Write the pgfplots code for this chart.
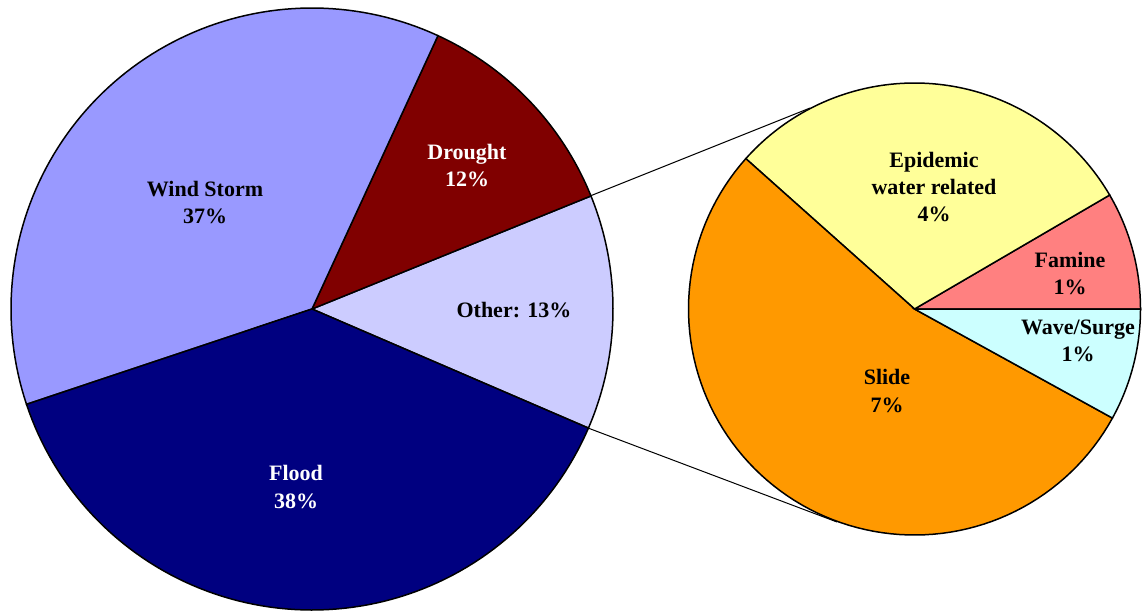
\documentclass[border=0pt]{standalone}
\usepackage{fontspec}
\setmainfont{Liberation Serif}
\usepackage{pgfplots}
\pgfplotsset{compat=1.18}

\definecolor{windc}{HTML}{9999FF}
\definecolor{droughtc}{HTML}{800000}
\definecolor{otherc}{HTML}{CCCCFF}
\definecolor{floodc}{HTML}{000080}
\definecolor{epic}{HTML}{FFFF99}
\definecolor{faminec}{HTML}{FF8080}
\definecolor{wavec}{HTML}{CCFFFF}
\definecolor{slidec}{HTML}{FF9900}

% shares (percent of all disasters)
\def\vOther{12.6}
\def\vDrought{12.0}
\def\vWind{37.0}
\def\vFlood{38.4}
% breakdown of "Other"
\def\vFamine{1.06}
\def\vEpi{3.78}
\def\vSlide{6.75}
\def\vWave{1.01}

% one wedge: cx, cy, r, from angle, to angle, colour
\newcommand{\pieslice}[6]{%
  \addplot[draw=black, line width=0.75pt, fill=#6, domain=#4:#5, samples=90, variable=\t]
    ({#1+#3*cos(\t)},{#2-#3*sin(\t)}) -- (axis cs:#1,#2) -- cycle;}

\tikzset{lbl/.style={font=\bfseries\fontsize{11}{13.5}\selectfont, align=center, inner sep=0pt}}

\begin{document}
\begin{tikzpicture}
  \pgfmathsetmacro\aA{-23.3}
  \pgfmathsetmacro\aB{\aA+3.6*\vOther}
  \pgfmathsetmacro\aC{\aB+3.6*\vDrought}
  \pgfmathsetmacro\aD{\aC+3.6*\vWind}
  \pgfmathsetmacro\aE{\aD+3.6*\vFlood}
  \pgfmathsetmacro\k{360/\vOther}
  \pgfmathsetmacro\bA{0}
  \pgfmathsetmacro\bB{\bA+\k*\vFamine}
  \pgfmathsetmacro\bC{\bB+\k*\vEpi}
  \pgfmathsetmacro\bD{\bC+\k*\vSlide}
  \pgfmathsetmacro\bE{\bD+\k*\vWave}
  \begin{axis}[
    scale only axis,
    width=572.5pt, height=306pt,
    xmin=0, xmax=1145, ymin=0, ymax=612,
    y dir=reverse,
    hide axis, clip=false,
    ]
    \path (rel axis cs:0,0) (rel axis cs:1,1);
    % main pie
    \pieslice{312}{309}{301}{\aA}{\aB}{otherc}
    \pieslice{312}{309}{301}{\aB}{\aC}{droughtc}
    \pieslice{312}{309}{301}{\aC}{\aD}{windc}
    \pieslice{312}{309}{301}{\aD}{\aE}{floodc}
    % secondary pie
    \pieslice{914.5}{309}{226}{\bA}{\bB}{faminec}
    \pieslice{914.5}{309}{226}{\bB}{\bC}{epic}
    \pieslice{914.5}{309}{226}{\bC}{\bD}{slidec}
    \pieslice{914.5}{309}{226}{\bD}{\bE}{wavec}
    % connector lines
    \addplot[black, line width=0.5pt] coordinates {(590,196) (810,108)};
    \addplot[black, line width=0.5pt] coordinates {(588,428) (837,522)};

    \node[lbl] at (axis cs:205,203) {Wind Storm\\37\%};
    \node[lbl, white] at (axis cs:467,166) {Drought\\12\%};
    \node[lbl] at (axis cs:514,310) {Other: 13\%};
    \node[lbl, white] at (axis cs:296,487) {Flood\\38\%};
    \node[lbl] at (axis cs:934,187) {Epidemic\\water related\\4\%};
    \node[lbl] at (axis cs:1070,274) {Famine\\1\%};
    \node[lbl] at (axis cs:1078,341) {Wave/Surge\\1\%};
    \node[lbl] at (axis cs:887,391) {Slide\\7\%};
  \end{axis}
\end{tikzpicture}
\end{document}
